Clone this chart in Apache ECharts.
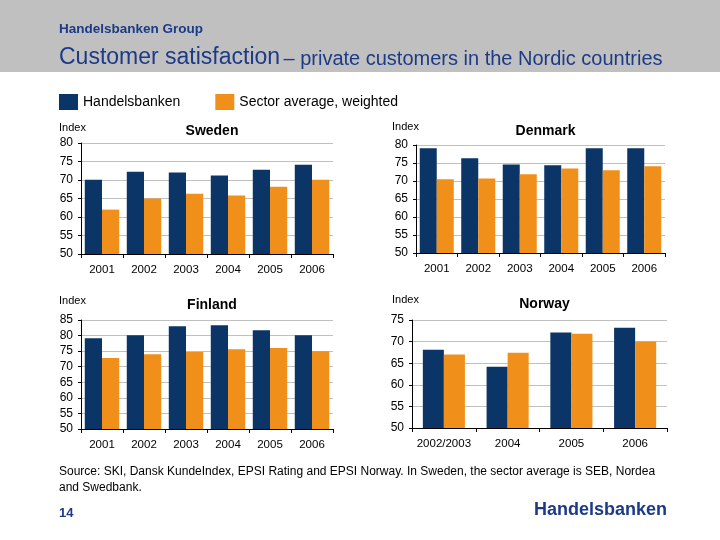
<!DOCTYPE html>
<html><head><meta charset="utf-8">
<script src="https://cdn.jsdelivr.net/npm/echarts@6/dist/echarts.min.js"></script>
<style>html,body{margin:0;padding:0;background:#fff}#c{width:720px;height:540px}</style>
</head><body><div id="c"></div>
<script>
const years = ['2001', '2002', '2003', '2004', '2005', '2006'];
const norwayYears = ['2002/2003', '2004', '2005', '2006'];
const seriesNames = ['Handelsbanken', 'Sector average, weighted'];
const swedenHB = [70.1, 72.2, 72.0, 71.2, 72.8, 74.1];
const swedenSector = [62.0, 65.0, 66.3, 65.8, 68.2, 70.1];
const denmarkHB = [79.1, 76.3, 74.6, 74.4, 79.1, 79.1];
const denmarkSector = [70.5, 70.7, 71.9, 73.5, 73.0, 74.1];
const finlandHB = [79.1, 80.1, 83.0, 83.3, 81.7, 80.1];
const finlandSector = [72.8, 74.0, 74.7, 75.6, 76.0, 75.0];
const norwayHB = [68.1, 64.2, 72.1, 73.2];
const norwaySector = [67.0, 67.4, 71.8, 70.0];
const countryTitles = ['Sweden', 'Denmark', 'Finland', 'Norway'];
const yMin = [50, 50, 50, 50];
const yMax = [80, 80, 85, 75];

const NAVY = '#0b3566';
const ORANGE = '#f0901a';
const TEXTNAVY = '#1b3a87';
const FONT = '"Liberation Sans", Arial, sans-serif';

const grids = [
  {left: 81, top: 143, width: 252, height: 111},
  {left: 416, top: 145, width: 249, height: 108},
  {left: 81, top: 320, width: 252, height: 109},
  {left: 412, top: 320, width: 255, height: 108}
];
const cats = [years, years, years, norwayYears];
const hb = [swedenHB, denmarkHB, finlandHB, norwayHB];
const sec = [swedenSector, denmarkSector, finlandSector, norwaySector];
const catGap = ['18%', '18%', '18%', '34%'];
const titleTop = [119, 119, 293, 292];
const indexPos = [[59, 129], [392, 128], [59, 302], [392, 301]];

const xAxes = grids.map((g, i) => ({
  type: 'category', gridIndex: i, data: cats[i],
  axisLine: {lineStyle: {color: '#000', width: 1}},
  axisTick: {show: true, alignWithLabel: false, length: 4, lineStyle: {color: '#000'}},
  axisLabel: {color: '#000', fontSize: 11.5, fontFamily: FONT, margin: 10, interval: 0}
}));
const yAxes = grids.map((g, i) => ({
  type: 'value', gridIndex: i, min: yMin[i], max: yMax[i], interval: 5,
  axisLine: {show: true, lineStyle: {color: '#000', width: 1}},
  axisTick: {show: true, length: 3, lineStyle: {color: '#000'}},
  axisLabel: {color: '#000', fontSize: 12, fontFamily: FONT, margin: 8},
  splitLine: {show: true, lineStyle: {color: '#c0c0c0', width: 1}}
}));
const series = [];
grids.forEach((g, i) => {
  series.push({name: seriesNames[0], type: 'bar', xAxisIndex: i, yAxisIndex: i, data: hb[i],
    itemStyle: {color: NAVY}, barGap: '0%', barCategoryGap: catGap[i], animation: false});
  series.push({name: seriesNames[1], type: 'bar', xAxisIndex: i, yAxisIndex: i, data: sec[i],
    itemStyle: {color: ORANGE}, barGap: '0%', barCategoryGap: catGap[i], animation: false});
});
const titles = grids.map((g, i) => ({
  text: countryTitles[i], left: g.left + g.width / 2, top: titleTop[i], textAlign: 'center',
  textStyle: {fontSize: 14, fontWeight: 'bold', color: '#000', fontFamily: FONT}
}));

const graphic = [
  {type: 'rect', left: 0, top: 0, shape: {width: 720, height: 72}, style: {fill: '#c0c0c0'}, z: -1},
  {type: 'text', left: 59, top: 22, style: {text: 'Handelsbanken Group', fill: TEXTNAVY, font: 'bold 13.5px ' + FONT}},
  {type: 'text', left: 59, top: 46, style: {
    text: '{a|Customer satisfaction} {b|– private customers in the Nordic countries}',
    fill: TEXTNAVY,
    rich: {a: {fontSize: 23, fontFamily: FONT, fill: TEXTNAVY},
           b: {fontSize: 20, fontFamily: FONT, fill: TEXTNAVY, padding: [3, 0, 0, 0]}}
  }},
  {type: 'text', left: 59, top: 464, style: {text: 'Source: SKI, Dansk KundeIndex, EPSI Rating and EPSI Norway. In Sweden, the sector average is SEB, Nordea\nand Swedbank.', fill: '#000', font: '12px ' + FONT, lineHeight: 16}},
  {type: 'text', left: 59, top: 507, style: {text: '14', fill: TEXTNAVY, font: 'bold 13px ' + FONT}},
  {type: 'text', right: 53, top: 501, style: {text: 'Handelsbanken', fill: TEXTNAVY, font: 'bold 18px ' + FONT}}
];
indexPos.forEach(p => graphic.push({type: 'text', left: p[0], top: p[1] - 7, style: {text: 'Index', fill: '#000', font: '11px ' + FONT}}));

const chart = echarts.init(document.getElementById('c'), null, {renderer: 'canvas'});
chart.setOption({
  animation: false,
  backgroundColor: '#fff',
  title: titles,
  legend: {
    data: seriesNames, left: 59, top: 94, padding: 0, itemWidth: 19, itemHeight: 16, itemGap: 35,
    icon: 'rect', selectedMode: false,
    textStyle: {fontSize: 14, fontFamily: FONT, color: '#000'}
  },
  grid: grids,
  xAxis: xAxes,
  yAxis: yAxes,
  series: series,
  graphic: graphic
});
</script></body></html>
